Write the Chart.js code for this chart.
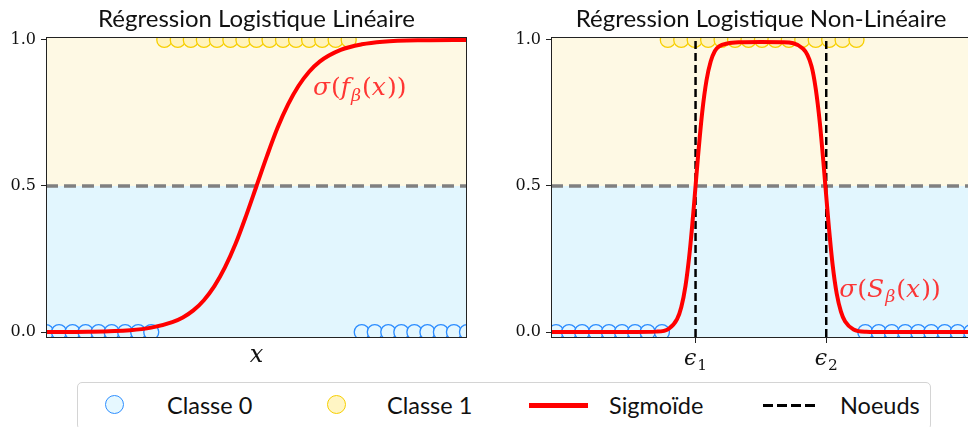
<!DOCTYPE html>
<html>
<head>
<meta charset="utf-8">
<script src="https://cdn.jsdelivr.net/npm/chart.js@4.4.1/dist/chart.umd.min.js"></script>
<style>
  html, body { margin:0; padding:0; background:#fff; width:968px; height:427px; overflow:hidden; position:relative; }
  canvas { position:absolute; top:0; }
  #legend { position:absolute; left:77px; top:382px; width:854px; height:48px; border:1px solid #d4d4d4; border-radius:5px; box-sizing:border-box; font-family:Lato, sans-serif; font-size:23.5px; color:#111; }
  #legend .it { position:absolute; top:0; line-height:44px; }
  #legend .dot { position:absolute; top:12px; width:17px; height:17px; border-radius:50%; border:1.5px solid; }
</style>
</head>
<body>
<canvas id="chartLin" width="480" height="380" style="left:0"></canvas>
<canvas id="chartNl" width="475" height="380" style="left:505px"></canvas>
<div id="legend">
  <div class="dot" style="left:27px;background:#e6f8ff;border-color:#2f8fff"></div>
  <div class="it" style="left:89px">Classe 0</div>
  <div class="dot" style="left:249px;background:#fff5c4;border-color:#f7cf00"></div>
  <div class="it" style="left:309px">Classe 1</div>
  <div style="position:absolute;left:451px;top:20px;width:59px;height:5px;background:#ff0000"></div>
  <div class="it" style="left:531px">Sigmoïde</div>
  <div style="position:absolute;left:685px;top:21px;width:52px;height:3px;background:repeating-linear-gradient(to right,#000 0 10px,transparent 10px 14px)"></div>
  <div class="it" style="left:762px">Noeuds</div>
</div>
<script>
// --- données ---
// régression linéaire
const linClass0X = [0, 0.31, 0.63, 0.94, 1.25, 1.56, 1.88, 2.19, 2.5, 7.5, 7.81, 8.13, 8.44, 8.75, 9.06, 9.38, 9.69, 10];
const linClass1X = [2.81, 3.13, 3.44, 3.75, 4.06, 4.38, 4.69, 5.0, 5.31, 5.63, 5.94, 6.25, 6.56, 6.88, 7.19];
const linCurveX  = [0, 1, 2, 2.5, 3, 3.25, 3.5, 3.75, 4, 4.25, 4.5, 4.75, 5, 5.25, 5.5, 5.75, 6, 6.25, 6.5, 7, 7.5, 8, 9, 10];
const linCurveY  = [0.0002, 0.001, 0.006, 0.015, 0.034, 0.05, 0.074, 0.109, 0.157, 0.221, 0.301, 0.397, 0.5, 0.603, 0.699, 0.779, 0.843, 0.891, 0.926, 0.966, 0.985, 0.994, 0.999, 1.0];

// régression non linéaire
const nlClass0X = [0.12, 0.43, 0.74, 1.07, 1.38, 1.69, 2.0, 2.3, 2.64, 7.48, 7.8, 8.11, 8.43, 8.74, 9.05, 9.37, 9.68, 10.0];
const nlClass1X = [2.78, 3.1, 3.42, 3.74, 4.06, 4.38, 4.7, 5.02, 5.34, 5.66, 5.98, 6.3, 6.62, 6.94, 7.27];
const nlCurveX  = [0, 1, 2, 2.5, 2.8, 3.0, 3.1, 3.2, 3.3, 3.4, 3.5, 3.6, 3.7, 3.8, 3.9, 4.0, 4.2, 4.5, 5.0, 5.5, 6.0, 6.2, 6.3, 6.4, 6.5, 6.6, 6.7, 6.8, 6.9, 7.0, 7.2, 7.5, 8, 9, 10];
const nlCurveY  = [0, 0, 0.0002, 0.0014, 0.011, 0.044, 0.085, 0.157, 0.273, 0.43, 0.603, 0.754, 0.861, 0.926, 0.962, 0.978, 0.988, 0.992, 0.993, 0.992, 0.97, 0.91, 0.833, 0.713, 0.552, 0.38, 0.233, 0.131, 0.07, 0.036, 0.009, 0.001, 0, 0, 0];
const nlKnots      = [3.44, 6.55];
const nlKnotLabels = [['ϵ', '1'], ['ϵ', '2']];

const yTicks = [0, 0.5, 1.0];
const Y_MIN = -0.017, Y_MAX = 1.01, X_MIN = 0, X_MAX = 10;

const pts = (xs, ys) => xs.map((x, i) => ({ x, y: Array.isArray(ys) ? ys[i] : ys }));

// petits morceaux de texte "maths" dessinés à la suite
function drawMath(ctx, parts, x, y, size, color, center) {
  ctx.save();
  ctx.fillStyle = color;
  ctx.textBaseline = 'alphabetic';
  ctx.textAlign = 'left';
  const fontOf = p => (p.it ? 'italic ' : '') + (p.sub ? size * 0.7 : size) + 'px "DejaVu Serif"';
  const w = parts.reduce((s, p) => { ctx.font = fontOf(p); return s + ctx.measureText(p.t).width + (p.it ? 1 : 0); }, 0);
  let cx = center ? x - w / 2 : x;
  parts.forEach(p => {
    ctx.font = fontOf(p);
    ctx.fillText(p.t, cx, y + (p.sub ? size * 0.22 : 0));
    cx += ctx.measureText(p.t).width + (p.it ? 1 : 0);
  });
  ctx.restore();
}

const decor = {
  id: 'decor',
  beforeDraw(chart) {
    const { ctx, chartArea: a, scales: { y } } = chart;
    const ym = y.getPixelForValue(0.5);
    ctx.save();
    ctx.fillStyle = '#fef9e4';
    ctx.fillRect(a.left, a.top, a.width, ym - a.top);
    ctx.fillStyle = '#e2f6fe';
    ctx.fillRect(a.left, ym, a.width, a.bottom - ym);
    ctx.restore();
  },
  afterDraw(chart) {
    const { ctx, chartArea: a, scales: { x, y } } = chart;
    const o = chart.options.plugins.decor;
    ctx.save();
    ctx.strokeStyle = '#222';
    ctx.lineWidth = 1;
    ctx.strokeRect(Math.round(a.left) + 0.5, Math.round(a.top) + 0.5, Math.round(a.width) - 1, Math.round(a.height));
    ctx.fillStyle = '#111';
    ctx.font = '24px Lato';
    ctx.textAlign = 'center';
    ctx.fillText(o.title, (a.left + a.right) / 2, 27);
    if (o.xTitle) {
      ctx.font = 'italic 24px "DejaVu Serif"';
      ctx.fillText(o.xTitle, (a.left + a.right) / 2, 362);
    }
    ctx.restore();
    (o.knots || []).forEach((k, i) => {
      const [g, n] = o.knotLabels[i];
      drawMath(ctx, [{ t: g, it: 1 }, { t: n, sub: 1 }], x.getPixelForValue(k), 365, 22, '#111', true);
    });
    const lab = o.label;
    drawMath(ctx, lab.parts, x.getPixelForValue(lab.x), y.getPixelForValue(lab.y), 25, 'rgba(255,20,20,0.85)');
  }
};

function makeChart(id, cfg) {
  const datasets = [
    { data: pts([X_MIN, X_MAX], 0.5), showLine: true, pointRadius: 0, borderColor: '#808080', borderWidth: 3.5, borderDash: [12, 6], order: 4 },
    { data: pts(cfg.c0, 0), pointRadius: 7.5, pointBorderWidth: 1.3, pointBackgroundColor: '#e3f7ff', pointBorderColor: '#2b8cff', clip: 0, order: 3 },
    { data: pts(cfg.c1, 1), pointRadius: 7.5, pointBorderWidth: 1.3, pointBackgroundColor: '#fff3bd', pointBorderColor: '#f7cf00', clip: 0, order: 3 },
    { data: pts(cfg.cx, cfg.cy), showLine: true, pointRadius: 0, borderColor: '#ff0000', borderWidth: 4, cubicInterpolationMode: 'monotone', clip: 0, order: 0 }
  ];
  (cfg.knots || []).forEach(k => datasets.push(
    { data: pts([k, k], [Y_MIN, Y_MAX]), showLine: true, pointRadius: 0, borderColor: '#000', borderWidth: 2.5, borderDash: [8, 4], order: 1 }
  ));
  return new Chart(document.getElementById(id), {
    type: 'scatter',
    data: { datasets },
    plugins: [decor],
    options: {
      responsive: false, animation: false, devicePixelRatio: 1,
      layout: { padding: { top: 37, right: cfg.padRight, left: 0, bottom: 0 } },
      plugins: { legend: { display: false }, tooltip: { enabled: false }, decor: Object.assign({ knots: cfg.knots, knotLabels: cfg.knotLabels }, cfg.decor) },
      scales: {
        x: {
          type: 'linear', min: X_MIN, max: X_MAX,
          border: { display: false },
          grid: { display: !!cfg.knots, drawOnChartArea: false, drawTicks: true, tickLength: 6, color: '#222' },
          ticks: { display: false },
          afterBuildTicks: s => { s.ticks = (cfg.knots || []).map(v => ({ value: v })); },
          afterFit: s => { s.height = 43; }
        },
        y: {
          min: Y_MIN, max: Y_MAX,
          border: { display: false },
          grid: { drawOnChartArea: false, drawTicks: true, tickLength: 5, color: '#222' },
          ticks: { padding: 5, color: '#111', font: { family: 'DejaVu Serif', size: 16 }, callback: v => v.toFixed(1) },
          afterBuildTicks: s => { s.ticks = yTicks.map(v => ({ value: v })); },
          afterFit: s => { s.width = 46; }
        }
      }
    }
  });
}

makeChart('chartLin', {
  c0: linClass0X, c1: linClass1X, cx: linCurveX, cy: linCurveY, padRight: 13,
  decor: {
    title: 'Régression Logistique Linéaire', xTitle: 'x',
    label: { x: 6.34, y: 0.81, parts: [{ t: 'σ', it: 1 }, { t: '(' }, { t: 'f', it: 1 }, { t: 'β', it: 1, sub: 1 }, { t: '(' }, { t: 'x', it: 1 }, { t: '))' }] }
  }
});

makeChart('chartNl', {
  c0: nlClass0X, c1: nlClass1X, cx: nlCurveX, cy: nlCurveY, padRight: 8,
  knots: nlKnots, knotLabels: nlKnotLabels,
  decor: {
    title: 'Régression Logistique Non-Linéaire',
    label: { x: 6.86, y: 0.12, parts: [{ t: 'σ', it: 1 }, { t: '(' }, { t: 'S', it: 1 }, { t: 'β', it: 1, sub: 1 }, { t: '(' }, { t: 'x', it: 1 }, { t: '))' }] }
  }
});
</script>
</body>
</html>
